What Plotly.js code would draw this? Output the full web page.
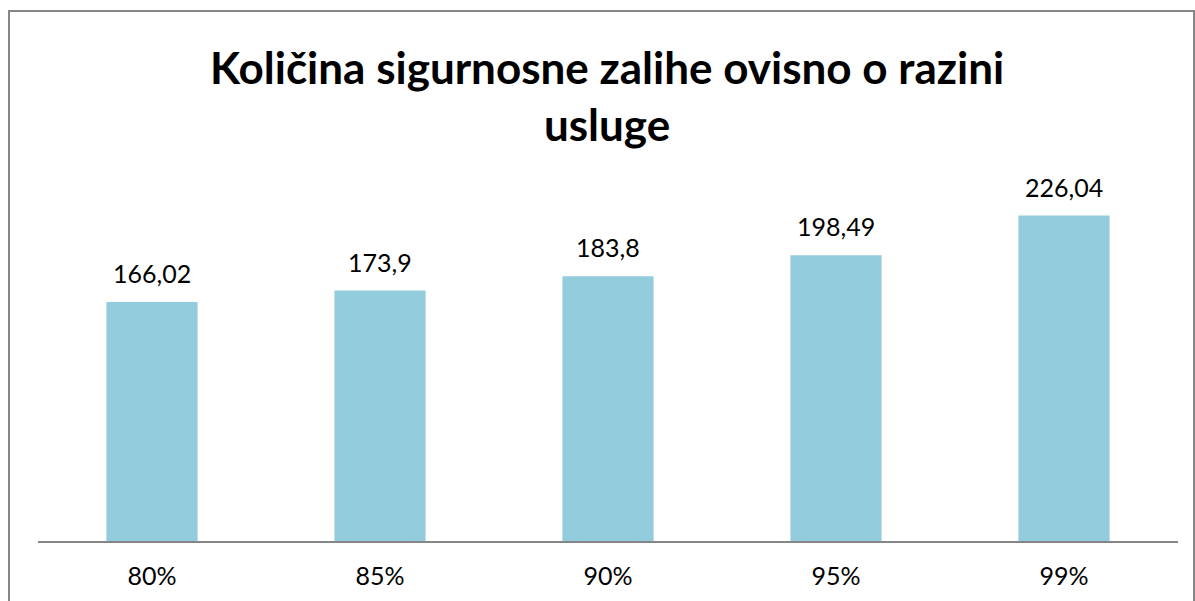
<!DOCTYPE html>
<html>
<head>
<meta charset="utf-8">
<script src="https://cdn.plot.ly/plotly-3.0.1.min.js"></script>
<style>
html,body{margin:0;padding:0;background:#fff;}
#wrap{position:relative;width:1195px;height:601px;overflow:hidden;}
#chart{width:1195px;height:601px;}
#frame{position:absolute;left:8px;top:10px;width:1183px;height:700px;border:2px solid #868686;pointer-events:none;}
</style>
</head>
<body>
<div id="wrap"><div id="chart"></div><div id="frame"></div></div>
<script>
const categories = ["80%", "85%", "90%", "95%", "99%"];
const values = [166.02, 173.9, 183.8, 198.49, 226.04];
const labels = values.map(v => String(v).replace('.', ','));
const chartTitle = "Količina sigurnosne zalihe ovisno o razini<br>usluge";

const FONT = "Lato, 'Open Sans', sans-serif";

const trace = {
  type: 'bar',
  x: categories,
  y: values,
  marker: {color: '#93CDDD'},
  hoverinfo: 'none'
};

const annotations = categories.map((c, i) => ({
  x: c, y: values[i], xref: 'x', yref: 'y',
  text: labels[i], showarrow: false,
  yanchor: 'bottom', yshift: 12,
  font: {family: FONT, size: 25, color: '#000'}
}));

const layout = {
  width: 1195, height: 601,
  margin: {l: 38, r: 17, t: 181, b: 60, pad: 0},
  paper_bgcolor: '#fff', plot_bgcolor: '#fff',
  showlegend: false,
  bargap: 0.6,
  title: {
    text: chartTitle,
    font: {family: FONT, size: 44, color: '#000', weight: 'bold'},
    x: 0.508, xanchor: 'center', xref: 'container',
    y: 1 - 84/601, yanchor: 'top', yref: 'container'
  },
  xaxis: {
    type: 'category',
    showline: true, linecolor: '#868686', linewidth: 2,
    ticks: '', showgrid: false, zeroline: false,
    tickfont: {family: FONT, size: 25, color: '#000'},
    ticklabelstandoff: 12
  },
  yaxis: {
    range: [0, 250], visible: false, showgrid: false, zeroline: false
  },
  annotations: annotations
};

Plotly.newPlot('chart', [trace], layout, {displayModeBar: false, staticPlot: true});
</script>
</body>
</html>
